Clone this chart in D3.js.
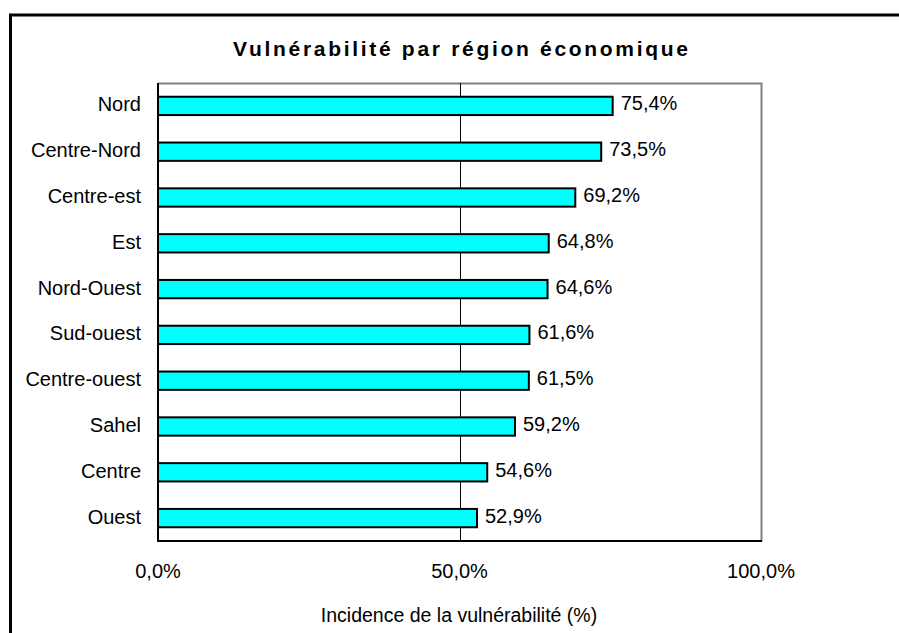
<!DOCTYPE html>
<html>
<head>
<meta charset="utf-8">
<script src="https://cdn.jsdelivr.net/npm/d3@7"></script>
<style>
  body { margin: 0; background: #fff; }
  text { font-family: "Liberation Sans", Arial, sans-serif; fill: #000; }
</style>
</head>
<body>
<div id="chart"></div>
<script>
// data
var regions = ["Nord", "Centre-Nord", "Centre-est", "Est", "Nord-Ouest",
               "Sud-ouest", "Centre-ouest", "Sahel", "Centre", "Ouest"];
var values = [75.4, 73.5, 69.2, 64.8, 64.6, 61.6, 61.5, 59.2, 54.6, 52.9];
var xTicks = [0, 50, 100];

var width = 899, height = 633;
// plot area edges
var plotL = 158, plotR = 761, plotT = 83, plotB = 541;

var svg = d3.select("#chart")
    .append("svg")
    .attr("width", width)
    .attr("height", height);

// outer frame (runs off the right and bottom edges)
svg.append("rect")
    .attr("x", 10.5).attr("y", 15)
    .attr("width", 890).attr("height", 640)
    .attr("fill", "#fff")
    .attr("stroke", "#000")
    .attr("stroke-width", 3);

var fmt = function(v) { return d3.format(".1f")(v).replace(".", ",") + "%"; };

var xScale = d3.scaleLinear().domain([0, 100]).range([plotL, plotR]);
var yScale = d3.scaleBand().domain(regions).range([plotT, plotB]).paddingInner(0.6).paddingOuter(0.3);

// plot frame: grey top/right
svg.append("path")
    .attr("d", "M" + plotL + "," + (plotT + 0.5) + "H" + (plotR + 0.5) + "V" + plotB)
    .attr("fill", "none")
    .attr("stroke", "#808080")
    .attr("stroke-width", 2);

// gridline at 50%
svg.append("g")
    .selectAll("line")
    .data(xTicks.slice(1, -1))
    .enter()
    .append("line")
    .attr("x1", function(d) { return Math.round(xScale(d)) + 0.5; })
    .attr("x2", function(d) { return Math.round(xScale(d)) + 0.5; })
    .attr("y1", plotT)
    .attr("y2", plotB)
    .attr("stroke", "#000")
    .attr("stroke-width", 1);

// bars
svg.append("g")
    .selectAll("rect")
    .data(values)
    .enter()
    .append("rect")
    .attr("x", plotL)
    .attr("y", function(d, i) { return yScale(regions[i]); })
    .attr("width", function(d) { return xScale(d) - plotL; })
    .attr("height", yScale.bandwidth())
    .attr("fill", "#00ffff")
    .attr("stroke", "#000")
    .attr("stroke-width", 2);

// value labels
svg.append("g")
    .selectAll("text")
    .data(values)
    .enter()
    .append("text")
    .attr("x", function(d) { return xScale(d) + 8; })
    .attr("y", function(d, i) { return yScale(regions[i]) + yScale.bandwidth() / 2; })
    .attr("dy", "0.22em")
    .attr("font-size", 20)
    .text(fmt);

// axes lines (black left and bottom)
svg.append("line")
    .attr("x1", plotL).attr("x2", plotL)
    .attr("y1", plotT).attr("y2", plotB + 1)
    .attr("stroke", "#000").attr("stroke-width", 2);
svg.append("line")
    .attr("x1", plotL).attr("x2", plotR + 1)
    .attr("y1", plotB).attr("y2", plotB)
    .attr("stroke", "#000").attr("stroke-width", 2);

// category labels
svg.append("g")
    .selectAll("text")
    .data(regions)
    .enter()
    .append("text")
    .attr("x", 141)
    .attr("y", function(d) { return yScale(d) + yScale.bandwidth() / 2; })
    .attr("dy", "0.27em")
    .attr("text-anchor", "end")
    .attr("font-size", 20)
    .text(function(d) { return d; });

// x tick labels
svg.append("g")
    .selectAll("text")
    .data(xTicks)
    .enter()
    .append("text")
    .attr("x", function(d) { return xScale(d); })
    .attr("y", 578)
    .attr("text-anchor", "middle")
    .attr("font-size", 20)
    .text(fmt);

// title
svg.append("text")
    .attr("x", 233)
    .attr("y", 56)
    .attr("font-size", 21)
    .attr("font-weight", "bold")
    .attr("textLength", 455)
    .attr("lengthAdjust", "spacing")
    .text("Vulnérabilité par région économique");

// x axis title
svg.append("text")
    .attr("x", 459)
    .attr("y", 622)
    .attr("text-anchor", "middle")
    .attr("font-size", 19.5)
    .text("Incidence de la vulnérabilité (%)");
</script>
</body>
</html>
